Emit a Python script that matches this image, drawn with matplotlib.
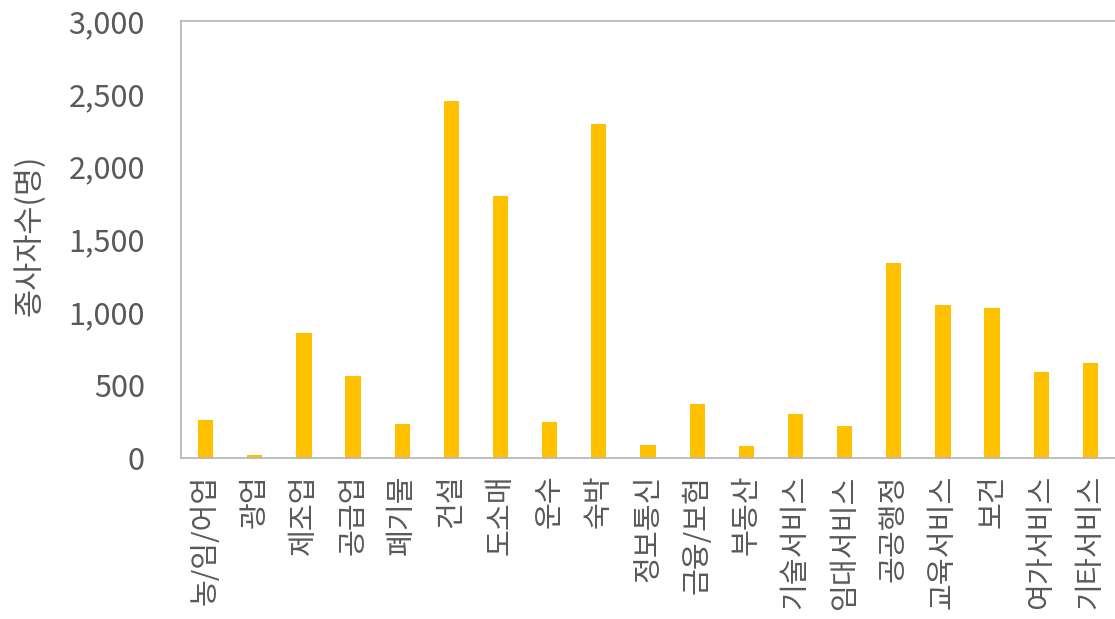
import matplotlib
matplotlib.use("Agg")
import matplotlib.pyplot as plt
from matplotlib.ticker import FuncFormatter, MultipleLocator

plt.rcParams['font.family'] = ['Noto Sans CJK KR', 'DejaVu Sans']

# 산업별 종사자수
categories = ['농/임/어업', '광업', '제조업', '공급업', '폐기물', '건설', '도소매', '운수', '숙박',
              '정보통신', '금융/보험', '부동산', '기술서비스', '임대서비스', '공공행정',
              '교육서비스', '보건', '여가서비스', '기타서비스']
workers = [260, 20, 860, 560, 230, 2450, 1800, 250, 2290,
           90, 370, 80, 300, 220, 1340, 1050, 1030, 590, 650]

text_color = '#595959'
spine_color = '#B4B4B4'

fig = plt.figure(figsize=(11.15, 6.19), dpi=100)
ax = fig.add_axes([181 / 1115, 1 - 458 / 619, 1 - 181 / 1115, (458 - 21) / 619])

x = range(len(categories))
ax.bar(x, workers, width=0.31, color='#FFC000', zorder=2)

ax.set_xlim(-0.5, len(categories) - 0.5)
ax.set_ylim(0, 3000)
ax.yaxis.set_major_locator(MultipleLocator(500))
ax.yaxis.set_major_formatter(FuncFormatter(lambda v, p: f'{int(v):,}'))

ax.set_xticks(list(x))
ax.set_xticklabels(categories, rotation=90, fontsize=21, color=text_color)
ax.tick_params(axis='x', length=0, pad=12)
ax.tick_params(axis='y', length=0, pad=26, labelsize=22, labelcolor=text_color)

for side in ['left', 'top', 'bottom']:
    ax.spines[side].set_color(spine_color)
    ax.spines[side].set_linewidth(1.2)
ax.spines['right'].set_visible(False)

fig.text(30 / 1115, 1 - 235 / 619, '종사자수(명)', rotation=90, fontsize=22,
         color=text_color, ha='center', va='center')

fig.savefig('out.png', dpi=100)
plt.close(fig)
